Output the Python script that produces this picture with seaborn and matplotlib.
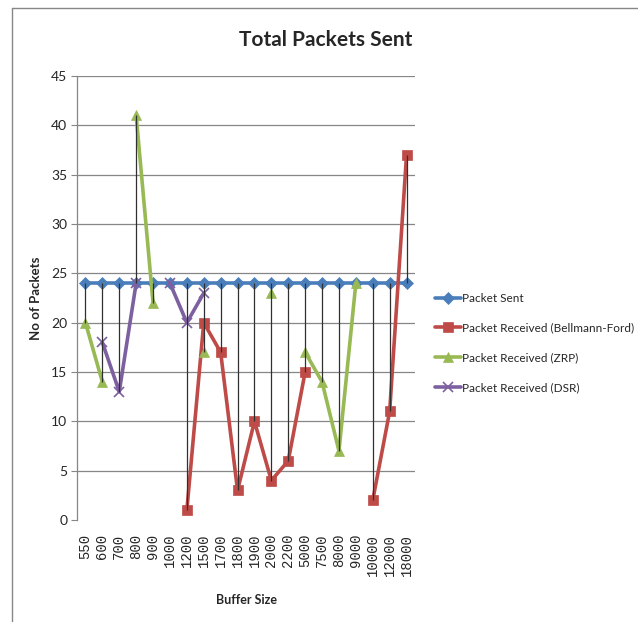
import numpy as np
import pandas as pd
import matplotlib
matplotlib.use("Agg")
import matplotlib.pyplot as plt
import seaborn as sns
from matplotlib.lines import Line2D

nan = np.nan
buffer_sizes = ["550", "600", "700", "800", "900", "1000", "1200", "1500", "1700", "1800",
                "1900", "2000", "2200", "5000", "7500", "8000", "9000", "10000", "12000", "18000"]
packet_sent = [24, 24, 24, 24, 24, 24, 24, 24, 24, 24, 24, 24, 24, 24, 24, 24, 24, 24, 24, 24]
bellmann_ford = [nan, nan, nan, nan, nan, nan, 1, 20, 17, 3, 10, 4, 6, 15, nan, nan, nan, 2, 11, 37]
zrp = [20, 14, nan, 41, 22, nan, nan, 17, nan, nan, nan, 23, nan, 17, 14, 7, 24, nan, nan, nan]
dsr = [nan, 18, 13, 24, nan, 24, 20, 23, nan, nan, nan, nan, nan, nan, nan, nan, nan, nan, nan, nan]
y_ticks = [0, 5, 10, 15, 20, 25, 30, 35, 40, 45]

series_names = ["Packet Sent", "Packet Received (Bellmann-Ford)",
                "Packet Received (ZRP)", "Packet Received (DSR)"]
series_values = [packet_sent, bellmann_ford, zrp, dsr]
colors = ["#4A7EBB", "#BE4B48", "#98B954", "#7D60A0"]
markers = ["D", "s", "^", "x"]
msizes = [6, 7.5, 7.5, 7]

sns.set_theme(style="white")
plt.rcParams["font.family"] = ["Lato", "DejaVu Sans"]

fig = plt.figure(figsize=(6.38, 6.22), dpi=100)
ax = fig.add_axes([77 / 638, 1 - 520 / 622, (415 - 77) / 638, (520 - 76) / 622])

# long-format table with segment ids (gaps where values are missing)
rows = []
for name, vals in zip(series_names, series_values):
    seg = 0
    prev_nan = True
    for i, v in enumerate(vals):
        if np.isnan(v):
            prev_nan = True
            continue
        if prev_nan:
            seg += 1
        prev_nan = False
        rows.append({"series": name, "x": i, "y": v, "seg": f"{name}-{seg}"})
df = pd.DataFrame(rows)

for k, (name, c, m, ms) in enumerate(zip(series_names, colors, markers, msizes)):
    sub = df[df["series"] == name]
    mew = 1.2 if m == "x" else 0.5
    sns.lineplot(data=sub, x="x", y="y", units="seg", estimator=None, ax=ax,
                 color=c, lw=2.6, marker=m, markersize=ms, markeredgecolor=c,
                 markeredgewidth=mew, sort=True, legend=False, zorder=3 + k)

# high-low lines
arr = np.array(series_values, dtype=float)
hi = np.nanmax(arr, axis=0)
lo = np.nanmin(arr, axis=0)
ax.vlines(np.arange(len(buffer_sizes)), lo, hi, colors="#303030", lw=0.9, zorder=10)

ax.set_xlim(-0.5, len(buffer_sizes) - 0.5)
ax.set_ylim(0, 45)
ax.set_yticks(y_ticks)
ax.set_yticklabels([str(t) for t in y_ticks], fontsize=10)
ax.set_xticks(np.arange(len(buffer_sizes)))
ax.set_xticklabels(buffer_sizes, rotation=90, fontsize=10, family=["Liberation Mono", "DejaVu Sans Mono"])
ax.tick_params(axis="x", length=0, pad=10)
ax.tick_params(axis="y", left=True, length=4, width=0.8, color="#868686", pad=3)
ax.yaxis.grid(True, color="#868686", lw=0.9)
ax.get_ygridlines()[0].set_visible(False)
ax.xaxis.grid(False)
for s in ["top", "right", "bottom"]:
    ax.spines[s].set_visible(False)
ax.spines["left"].set_color("#868686")
ax.spines["left"].set_linewidth(0.9)
ax.set_xlabel("")
ax.set_ylabel("")
ax.set_facecolor("white")

fig.text(326 / 638, 1 - 40 / 622, "Total Packets Sent", ha="center", va="center",
         fontsize=15, fontweight="bold")
fig.text(246 / 638, 1 - 600 / 622, "Buffer Size", ha="center", va="center",
         fontsize=9, fontweight="bold")
fig.text(36 / 638, 1 - 298 / 622, "No of Packets", ha="center", va="center",
         rotation=90, fontsize=9.5, fontweight="bold")

handles = [Line2D([], [], color=c, lw=2.6, marker=m, markersize=ms, markeredgecolor=c,
                  markeredgewidth=(1.2 if m == "x" else 0.5))
           for c, m, ms in zip(colors, markers, msizes)]
fig.legend(handles, series_names, loc="center left", bbox_to_anchor=(430 / 638, 1 - 343 / 622),
           frameon=False, fontsize=8.5, handlelength=2.2, handletextpad=0.1,
           labelspacing=1.6, borderaxespad=0)

# outer chart border (top and left edges visible)
fig.add_artist(Line2D([12 / 638, 12 / 638], [0, 1 - 8 / 622], transform=fig.transFigure,
                      color="#878787", lw=1))
fig.add_artist(Line2D([12 / 638, 1], [1 - 8 / 622, 1 - 8 / 622], transform=fig.transFigure,
                      color="#878787", lw=1))

fig.savefig("out.png", dpi=100, facecolor="white")
